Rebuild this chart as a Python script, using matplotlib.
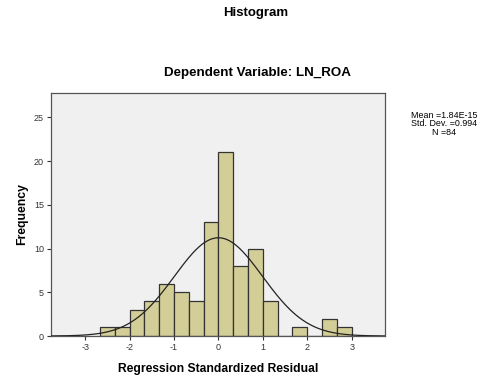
import numpy as np
import matplotlib
matplotlib.use("Agg")
import matplotlib.pyplot as plt

plt.rcParams['font.family'] = ['Liberation Sans', 'DejaVu Sans']
plt.rcParams['axes.unicode_minus'] = False

# histogram of regression standardized residuals (bin width 1/3)
bin_edges = np.arange(-8, 10) / 3.0
counts = [1, 1, 3, 4, 6, 5, 4, 13, 21, 8, 10, 4, 0, 1, 0, 2, 1]
mean = 1.84e-15
std = 0.994
n = 84
x_ticks = [-3, -2, -1, 0, 1, 2, 3]
y_ticks = [0, 5, 10, 15, 20, 25]

fig = plt.figure(figsize=(4.87, 3.79), dpi=100)
ax = fig.add_axes([51 / 487, 43 / 379, 334 / 487, 243 / 379])
ax.set_facecolor('#F0F0F0')

widths = np.diff(bin_edges)
ax.bar(bin_edges[:-1], counts, width=widths, align='edge',
       color='#D3CE97', edgecolor='#333333', linewidth=0.9, zorder=2)

# fitted normal curve scaled to counts
xs = np.linspace(-3.77, 3.75, 400)
bw = widths[0]
pdf = np.exp(-0.5 * ((xs - mean) / std) ** 2) / (std * np.sqrt(2 * np.pi))
ax.plot(xs, n * bw * pdf, color='#222222', linewidth=0.9, zorder=3)

ax.set_xlim(-3.77, 3.75)
ax.set_ylim(0, 27.8)
ax.set_xticks(x_ticks)
ax.set_yticks(y_ticks)
ax.tick_params(labelsize=6.5, length=3, width=0.8, colors='#333333', pad=2)
for s in ax.spines.values():
    s.set_color('#555555')
    s.set_linewidth(0.9)

ax.set_xlabel('Regression Standardized Residual', fontsize=8.7, fontweight='bold', labelpad=8)
ax.set_ylabel('Frequency', fontsize=8.8, fontweight='bold', labelpad=4)

fig.text(256 / 487, 1 - 13 / 379, 'Histogram', ha='center', va='center',
         fontsize=9.5, fontweight='bold')
fig.text(257 / 487, 1 - 73 / 379, 'Dependent Variable: LN_ROA', ha='center', va='center',
         fontsize=9.6, fontweight='bold')
fig.text(444 / 487, 1 - 124 / 379,
         'Mean =1.84E-15\nStd. Dev. =0.994\nN =84',
         ha='center', va='center', fontsize=6.4, linespacing=1.0)

fig.savefig('out.png', dpi=100)
